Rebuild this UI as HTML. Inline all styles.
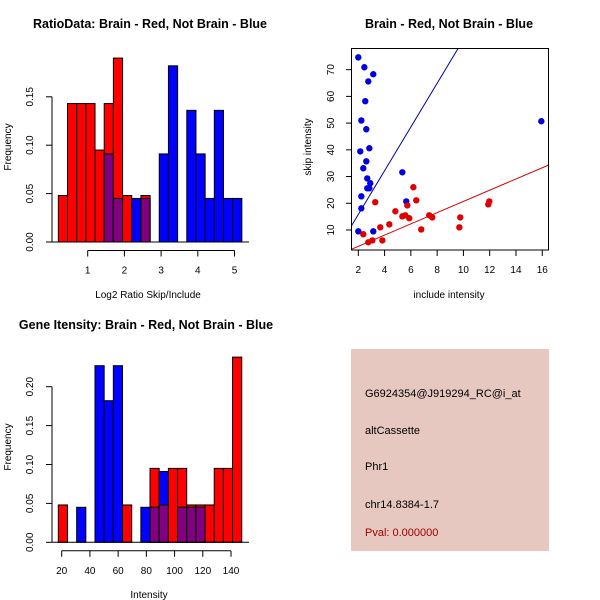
<!DOCTYPE html>
<html><head><meta charset="utf-8"><style>
body{margin:0;background:#fff}
svg{display:block;font-family:"Liberation Sans",Arial,sans-serif}
</style></head><body>
<svg id="c" width="600" height="600" viewBox="0 0 600 600">
<rect width="600" height="600" fill="#fff"/>
<text x="150" y="28" font-size="12.5" font-weight="bold" text-anchor="middle">RatioData: Brain - Red, Not Brain - Blue</text>
<text x="449" y="28" font-size="12.5" font-weight="bold" text-anchor="middle">Brain - Red, Not Brain - Blue</text>
<text x="146" y="329" font-size="12.5" font-weight="bold" text-anchor="middle">Gene Itensity: Brain - Red, Not Brain - Blue</text>
<text x="148" y="298" font-size="10" text-anchor="middle">Log2 Ratio Skip/Include</text>
<text x="449" y="298" font-size="10" text-anchor="middle">include intensity</text>
<text x="149" y="598" font-size="10" text-anchor="middle">Intensity</text>
<text transform="translate(11,147) rotate(-90)" font-size="10" text-anchor="middle">Frequency</text>
<text transform="translate(311,147) rotate(-90)" font-size="10" text-anchor="middle">skip intensity</text>
<text transform="translate(11,447) rotate(-90)" font-size="10" text-anchor="middle">Frequency</text>
<g>
<rect x="351" y="349" width="198" height="202" fill="#e6c8c1"/>
<text x="365" y="397" font-size="11">G6924354@J919294_RC@i_at</text>
<text x="365" y="434" font-size="11">altCassette</text>
<text x="365" y="470" font-size="11">Phr1</text>
<text x="365" y="508" font-size="11">chr14.8384-1.7</text>
<text x="365" y="536" font-size="11" fill="#a00000">Pval: 0.000000</text>
</g>
</svg>
<script>
// Ratio histogram data (bins start 0.2, width 0.25)
const ratioRed = [0.048,0.143,0.143,0.143,0.095,0.143,0.19,0.048,0,0.048,0,0,0,0,0,0,0,0,0,0];
const ratioBlue = [0,0,0,0,0,0.091,0.045,0,0.045,0.045,0,0.091,0.182,0,0.136,0.091,0.045,0.136,0.045,0.045];
const ratioXTicks = [1,2,3,4,5];
const ratioYTicks = [0,0.05,0.10,0.15];
// Intensity histogram data (bins start 17.6, width 6.5)
const intRed = [0.048,0,0,0,0,0,0,0.048,0,0,0.095,0.048,0.095,0.095,0.048,0.048,0.048,0.095,0.095,0.238];
const intBlue = [0,0,0.045,0,0.227,0.182,0.227,0,0,0.045,0.045,0.091,0,0.045,0.045,0.045,0,0,0,0];
const intXTicks = [20,40,60,80,100,120,140];
const intYTicks = [0,0.05,0.10,0.15,0.20];
// Scatter data
const blueX = [2.0,2.46,3.14,2.76,2.53,2.23,2.61,2.84,2.15,2.61,2.38,2.68,2.91,2.68,2.84,2.23,2.23,5.35,5.65,2.0,3.14,15.93];
const blueY = [74.6,70.9,68.3,65.6,58.2,51.0,47.7,40.6,39.4,35.7,33.1,29.3,27.5,25.6,25.6,22.6,18.1,31.6,20.7,9.5,9.5,50.7];
const redX = [3.29,6.19,6.41,5.73,4.82,5.35,5.58,5.88,7.40,7.63,4.36,3.67,6.79,2.38,3.07,2.76,3.83,9.76,9.69,11.89,11.97];
const redY = [20.4,26.0,21.1,19.2,17.0,15.1,15.5,14.4,15.5,14.7,12.1,11.0,10.2,8.4,6.1,5.4,6.1,14.7,11.0,19.6,20.7];
const blueFit = [-0.54,8.18];
const redFit = [-0.31,2.10];
const scXTicks = [2,4,6,8,10,12,14,16];
const scYTicks = [10,20,30,40,50,60,70];

const svg = document.getElementById('c');
const NS = 'http://www.w3.org/2000/svg';
function mk(tag, attrs){const e=document.createElementNS(NS,tag);for(const k in attrs)e.setAttribute(k,attrs[k]);svg.appendChild(e);return e;}

function histogram(prefix, red, blue, x0, bw, xs, ys, baseY, xTicks, yTicks, yAxisX, originPx){
  const X = v => originPx + (v - xTicks[0]) * xs;
  for(let i=0;i<red.length;i++){
    const l = X(x0+i*bw), w = bw*xs;
    const r = red[i], b = blue[i], m = Math.min(r,b);
    if(r>0){const e=mk('rect',{x:l,y:baseY-r*ys,width:w,height:r*ys,fill:'#ff0000',stroke:'#000','stroke-width':1});
      
      }
    if(b>0){const e=mk('rect',{x:l,y:baseY-b*ys,width:w,height:b*ys,fill:'#0000ff',stroke:'#000','stroke-width':1});
      
      }
    if(m>0){const e=mk('rect',{x:l,y:baseY-m*ys,width:w,height:m*ys,fill:'#800080',stroke:'#000','stroke-width':1});
      
      }
  }
  const ya=mk('line',{x1:yAxisX,x2:yAxisX,y1:baseY,y2:baseY-yTicks[yTicks.length-1]*ys,stroke:'#000'});
  
  
  const bl=mk('line',{x1:yAxisX,x2:249,y1:baseY,y2:baseY,stroke:'#000'});
  
  
  yTicks.forEach(t=>{
    const y=baseY-t*ys;
    mk('line',{x1:yAxisX-6,x2:yAxisX,y1:y,y2:y,stroke:'#000'});
    const tx=mk('text',{transform:`translate(${yAxisX-19},${y}) rotate(-90)`,'font-size':10,'text-anchor':'middle'});
    tx.textContent=t.toFixed(2);
    
    
  });
  const axY = baseY+8.5;
  const xa=mk('line',{x1:X(xTicks[0]),x2:X(xTicks[xTicks.length-1]),y1:axY,y2:axY,stroke:'#000'});
  
  
  xTicks.forEach(t=>{
    const x=X(t);
    mk('line',{x1:x,x2:x,y1:axY,y2:axY+6,stroke:'#000'});
    const tx=mk('text',{x:x,y:axY+23,'font-size':10,'text-anchor':'middle'});
    tx.textContent=t;
    
    
  });
}
histogram('ratio', ratioRed, ratioBlue, 0.2, 0.25, 36.7, 968, 242, ratioXTicks, ratioYTicks, 52, 87.7);
histogram('int', intRed, intBlue, 17.6, 6.5, 1.411, 778, 542.3, intXTicks, intYTicks, 52, 61.7);

// Scatter
const SX = v => 358.3 + (v-2)*13.14;
const SY = v => 256.7 - v*2.672;
const frame=mk('rect',{x:351.5,y:48.5,width:197,height:201.5,fill:'none',stroke:'#000'});


const defs=mk('clipPath',{id:'clipS'});
const cr=document.createElementNS(NS,'rect');
cr.setAttribute('x',352);cr.setAttribute('y',49);cr.setAttribute('width',196);cr.setAttribute('height',200.5);
defs.appendChild(cr);
function fitLine(f,color,name){
  const xa=1.4, xb=16.6;
  const l=mk('line',{x1:SX(xa),y1:SY(f[0]+f[1]*xa),x2:SX(xb),y2:SY(f[0]+f[1]*xb),stroke:color,'stroke-width':1,'clip-path':'url(#clipS)'});
  
  
}
fitLine(blueFit,'#0000a0','blue-fit-line');
fitLine(redFit,'#d00000','red-fit-line');
blueX.forEach((x,i)=>{const c=mk('circle',{cx:SX(x),cy:SY(blueY[i]),r:3.2,fill:'#0000e0'});
  
  });
redX.forEach((x,i)=>{const c=mk('circle',{cx:SX(x),cy:SY(redY[i]),r:3.2,fill:'#e00000'});
  
  });
scXTicks.forEach(t=>{
  const x=SX(t);
  mk('line',{x1:x,x2:x,y1:250,y2:256,stroke:'#000'});
  const tx=mk('text',{x:x,y:273,'font-size':10,'text-anchor':'middle'});
  tx.textContent=t;
  
  
});
scYTicks.forEach(t=>{
  const y=SY(t);
  mk('line',{x1:346,x2:352,y1:y,y2:y,stroke:'#000'});
  const tx=mk('text',{transform:`translate(334,${y}) rotate(-90)`,'font-size':10,'text-anchor':'middle'});
  tx.textContent=t;
  
  
});
</script>
</body></html>
